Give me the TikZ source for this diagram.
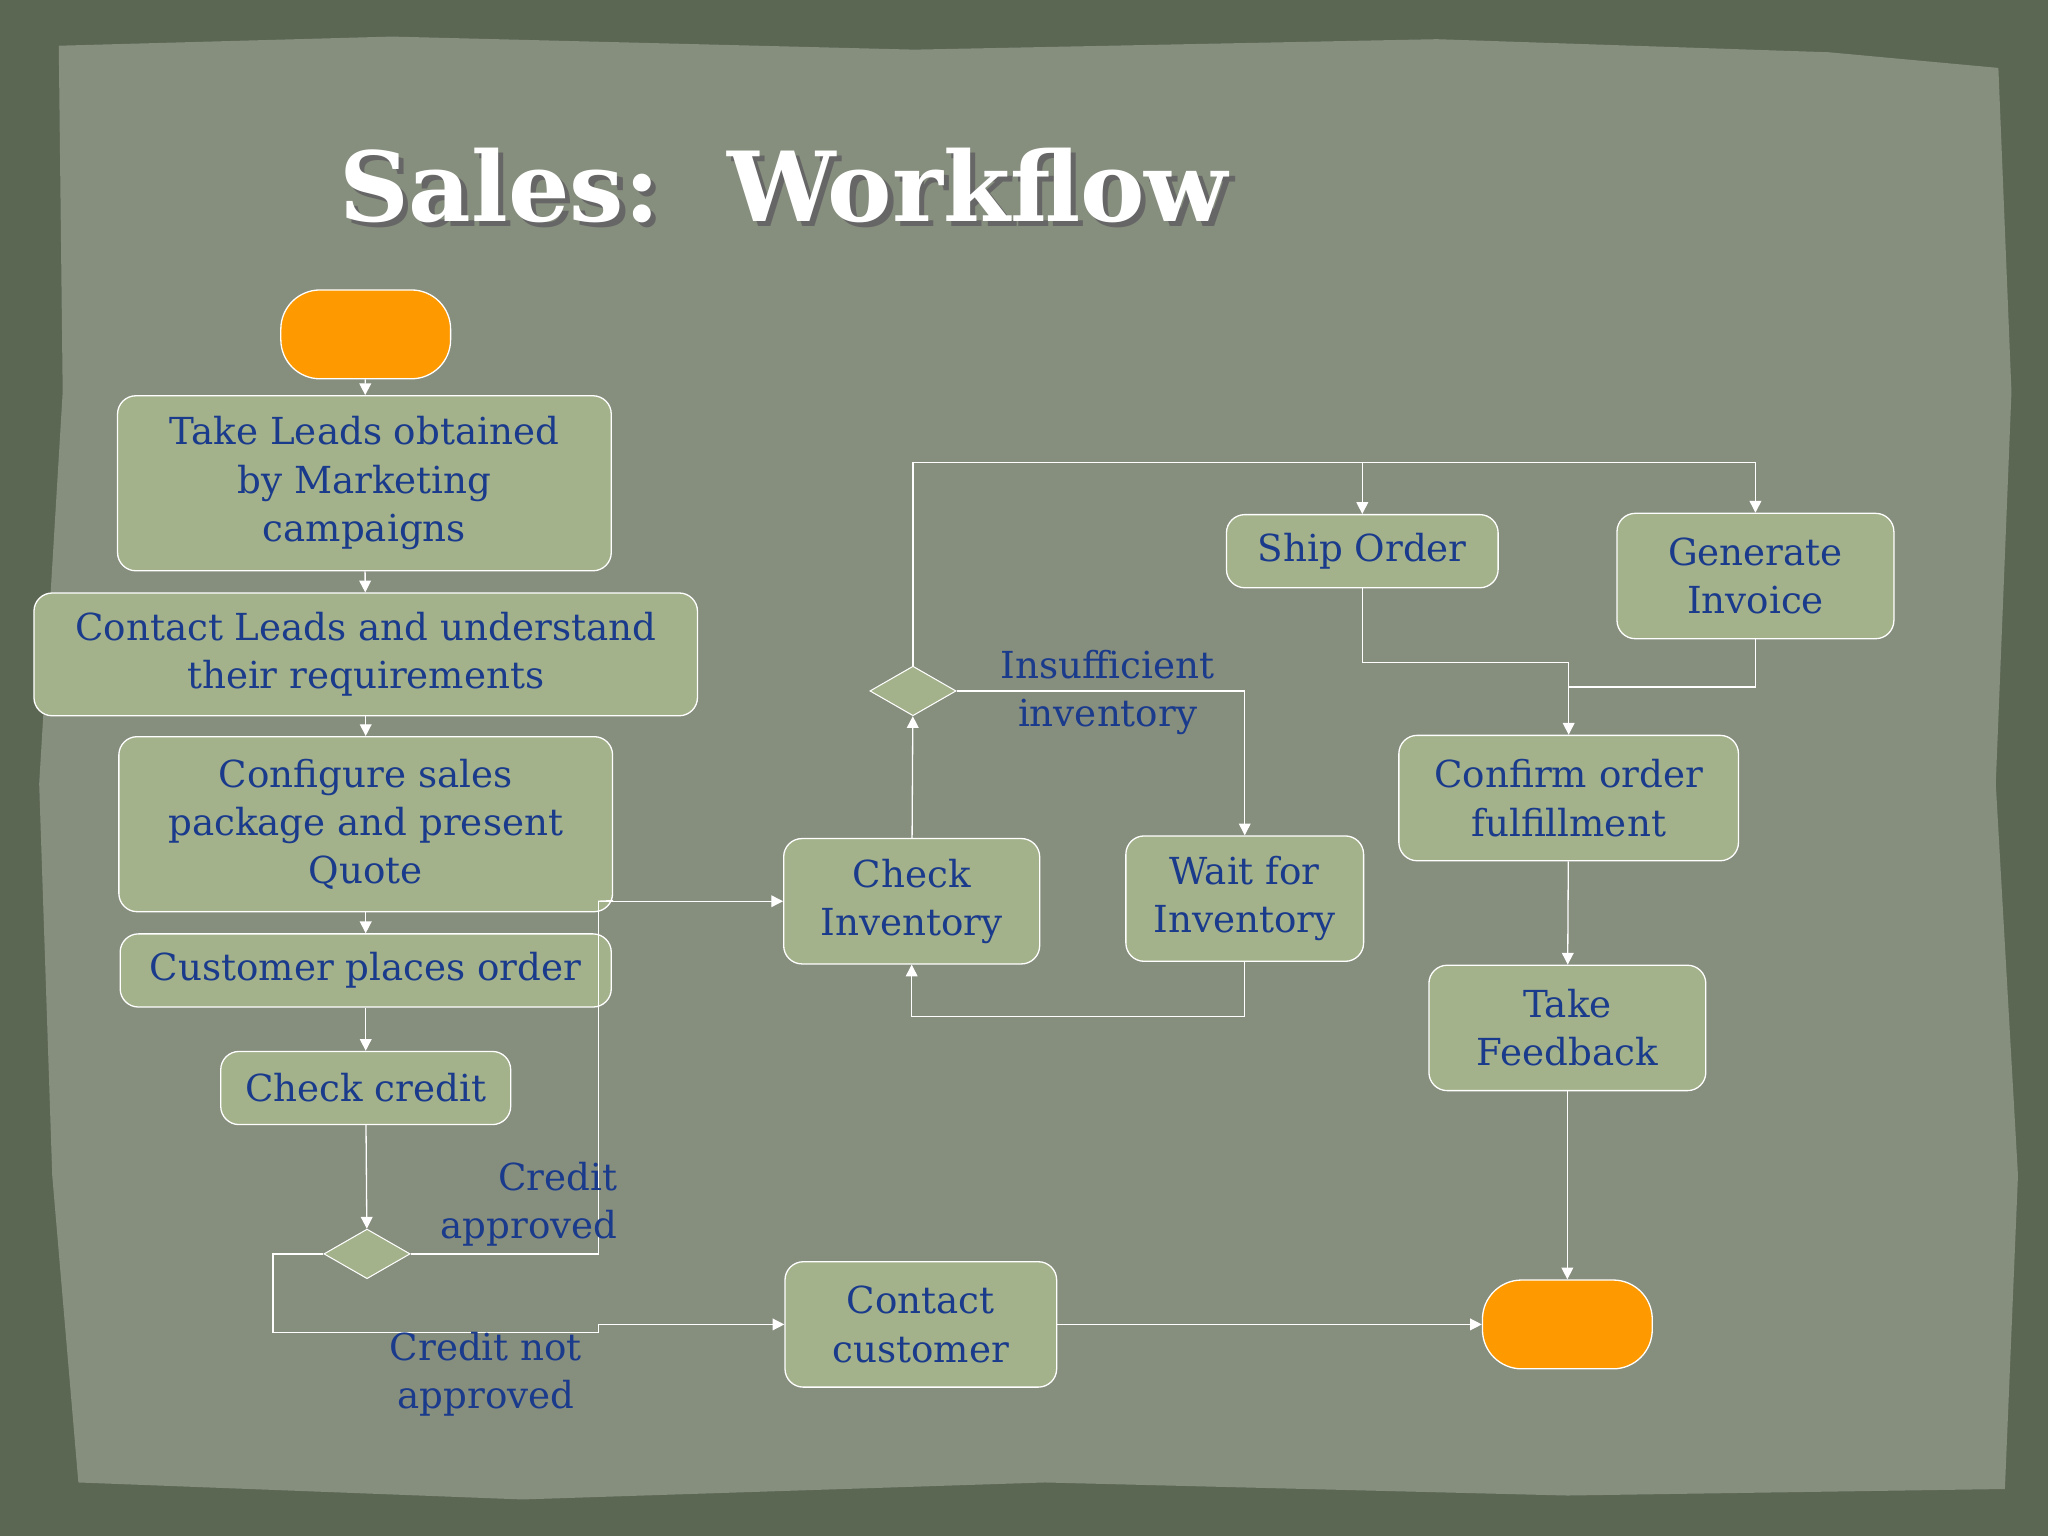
\documentclass[tikz,border=0pt]{standalone}
\usepackage{fontspec}
\setmainfont{DejaVu Serif}
\usetikzlibrary{shapes.geometric,arrows.meta,calc}
\definecolor{frame}{HTML}{5C6753}
\definecolor{paper}{HTML}{868E7E}
\definecolor{boxf}{HTML}{A3B28A}
\definecolor{txt}{HTML}{1A3A8C}
\definecolor{orng}{HTML}{FF9900}
\tikzset{
 box/.style={draw=white,fill=boxf,rounded corners=14pt,line width=1pt,align=center,text=txt,font=\fontsize{28.5}{37}\selectfont,inner sep=0pt},
 oval/.style={draw=white,fill=orng,rounded corners=30pt,line width=1pt,minimum width=130pt,minimum height=68pt},
 dia/.style={diamond,draw=white,fill=boxf,line width=0.8pt,minimum width=66pt,minimum height=38pt,inner sep=0pt},
 lbl/.style={text=txt,font=\fontsize{28.5}{37}\selectfont,align=center},
 con/.style={draw=white,line width=1pt,-{Triangle[width=9pt,length=9pt]}},
 ln/.style={draw=white,line width=1pt},
}
\begin{document}
\begin{tikzpicture}[x=1pt,y=-1pt]
\fill[frame] (0,0) rectangle (1568,1176);
\fill[paper] (45,35) -- (300,28) -- (700,38) -- (1100,30) -- (1400,40) -- (1530,52) -- (1540,300) -- (1528,600) -- (1545,900) -- (1535,1140) -- (1200,1145) -- (800,1135) -- (400,1148) -- (60,1135) -- (40,900) -- (30,600) -- (48,300) -- cycle;
\node[text=black!60,font=\fontsize{74}{84}\selectfont\bfseries] (shadow) at (604,146) {Sales:\ \ Workflow};
\node[text=white,font=\fontsize{74}{84}\selectfont\bfseries] (title) at (600,142) {Sales:\ \ Workflow};
\node[oval] (start) at (280,256) {};
\node[box,minimum width=378pt,minimum height=134pt] (leads) at (279,370) {Take Leads obtained\\by Marketing\\campaigns};
\node[box,minimum width=508pt,minimum height=94pt] (cont) at (280,501) {Contact Leads and understand\\their requirements};
\node[box,minimum width=378pt,minimum height=134pt] (conf) at (280,631) {Configure sales\\package and present\\Quote};
\node[box,minimum width=376pt,minimum height=56pt] (cpo) at (280,743) {Customer places order};
\node[box,minimum width=222pt,minimum height=56pt] (cc) at (280,833) {Check credit};
\node[dia] (d1) at (281,960) {};
\node[box,minimum width=196pt,minimum height=96pt] (ci) at (698,690) {Check\\Inventory};
\node[dia] (d2) at (699,529) {};
\node[box,minimum width=182pt,minimum height=96pt] (wait) at (953,688) {Wait for\\Inventory};
\node[box,minimum width=208pt,minimum height=56pt] (ship) at (1043,422) {Ship Order};
\node[box,minimum width=212pt,minimum height=96pt] (inv) at (1344,441) {Generate\\Invoice};
\node[box,minimum width=260pt,minimum height=96pt] (confirm) at (1201,611) {Confirm order\\fulfillment};
\node[box,minimum width=212pt,minimum height=96pt] (fb) at (1200,787) {Take\\Feedback};
\node[box,minimum width=208pt,minimum height=96pt] (ccust) at (705,1014) {Contact\\customer};
\node[oval] (end) at (1200,1014) {};
\draw[con] (start) -- (leads);
\draw[con] (leads) -- (cont);
\draw[con] (cont) -- (conf);
\draw[con] (conf) -- (cpo);
\draw[con] (cpo) -- (cc);
\draw[con] (cc) -- (d1);
\coordinate (j1) at (458,690);
\draw[ln] (conf.south east) ++(0,-9) -- (j1);
\draw[con] (d1.east) -- (458,960) -- (j1) -- (ci.west);
\draw[con] (d1.west) -- (209,960) -- (209,1020) -- (458,1020) -- (458,1014) -- (ccust.west);
\node[lbl,align=right] (l1) at (405,922) {\hfill Credit\\approved};
\node[lbl] (l2) at (372,1052) {Credit not\\approved};
\draw[con] (ci) -- (d2);
\draw[con] (d2.north) -- (699,354) -- (1344,354) -- (inv.north);
\draw[con] (1043,354) -- (ship.north);
\draw[con] (d2.east) -- (953,529) -- (wait.north);
\node[lbl] (l3) at (848,530) {Insufficient\\inventory};
\draw[con] (wait.south) -- (953,778) -- (698,778) -- (ci.south);
\draw[con] (ship.south) -- (1043,507) -- (1201,507) -- (confirm.north);
\draw[ln] (inv.south) -- (1344,526) -- (1201,526);
\draw[con] (confirm) -- (fb);
\draw[con] (fb) -- (end);
\draw[con] (ccust) -- (end);
\end{tikzpicture}
\end{document}
